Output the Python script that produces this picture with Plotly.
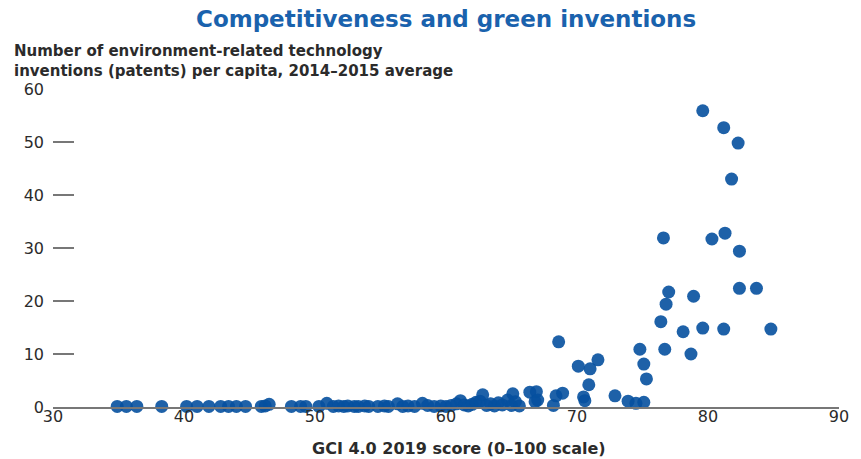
import plotly.graph_objects as go

# GCI 4.0 2019 score (x) and environment-related inventions per capita (y)
gci = [34.9, 35.6, 36.4, 38.3, 40.2, 41.0, 41.9, 42.8, 43.4, 44.0, 44.7, 45.9, 46.5, 46.2,
       48.2, 48.9, 49.3, 50.3, 50.9, 51.4, 51.8, 52.2, 52.5, 53.0, 53.3, 53.8, 54.1, 54.8,
       55.3, 55.6, 56.3, 56.7, 57.1, 57.6, 58.2, 58.6, 59.1, 59.6, 60.0, 60.4, 60.8, 61.1,
       61.4, 61.7, 62.0, 62.3, 62.6, 62.8, 63.1, 63.4, 63.7, 64.0, 64.3, 64.7, 65.0, 65.1,
       65.3, 65.6, 66.4, 66.9, 66.8, 67.0, 68.2, 68.4, 68.9, 68.6, 70.1, 71.0, 71.6, 70.9,
       70.5, 70.6, 72.9, 73.9, 74.5, 75.1, 74.8, 75.1, 75.3, 76.4, 76.7, 76.6, 76.8, 77.0,
       78.1, 78.7, 78.9, 79.6, 79.6, 80.3, 81.2, 81.3, 81.2, 81.8, 82.3, 82.4, 82.4, 83.7,
       84.8]
patents = [0.1, 0.1, 0.1, 0.1, 0.1, 0.1, 0.1, 0.1, 0.1, 0.1, 0.1, 0.1, 0.5, 0.2,
           0.1, 0.1, 0.1, 0.1, 0.7, 0.1, 0.2, 0.1, 0.2, 0.1, 0.1, 0.2, 0.1, 0.1,
           0.2, 0.1, 0.6, 0.1, 0.2, 0.1, 0.7, 0.3, 0.1, 0.2, 0.1, 0.3, 0.6, 1.2,
           0.4, 0.2, 0.5, 0.9, 1.1, 2.3, 0.3, 0.6, 0.2, 0.8, 0.4, 1.3, 0.3, 2.5,
           1.0, 0.2, 2.8, 2.9, 1.0, 1.3, 0.3, 2.1, 2.6, 12.3, 7.7, 7.2, 8.9, 4.2,
           1.9, 1.2, 2.1, 1.1, 0.7, 0.9, 10.9, 8.1, 5.3, 16.1, 10.9, 31.9, 19.4, 21.7,
           14.2, 10.0, 20.9, 14.9, 55.9, 31.7, 52.7, 32.8, 14.7, 43.0, 49.8, 29.4, 22.4, 22.4,
           14.7]

title_text = "Competitiveness and green inventions"
y_title_1 = "Number of environment-related technology"
y_title_2 = "inventions (patents) per capita, 2014–2015 average"
x_title = "GCI 4.0 2019 score (0–100 scale)"
y_ticks = [0, 10, 20, 30, 40, 50, 60]
x_ticks = [30, 40, 50, 60, 70, 80, 90]

FONT = "DejaVu Sans"
TEXT = "#2b2b2b"

fig = go.Figure()
fig.add_trace(go.Scatter(
    x=gci, y=patents, mode="markers",
    marker=dict(size=13, color="#05509e", opacity=0.9, line=dict(width=0)),
    cliponaxis=False, hoverinfo="x+y", showlegend=False,
))

fig.update_layout(
    width=861, height=459,
    margin=dict(l=53, r=17, t=89, b=52),
    paper_bgcolor="white", plot_bgcolor="white",
    font=dict(family=FONT, color=TEXT),
    xaxis=dict(range=[30, 90], tickvals=x_ticks, ticks="", showgrid=False, zeroline=False,
               showline=True, linecolor="#777777", linewidth=1.5,
               tickfont=dict(family=FONT, size=16, color=TEXT), ticklabelstandoff=-6,
               ticklabeloverflow="allow"),
    yaxis=dict(range=[0, 60], tickvals=y_ticks, ticks="inside", ticklen=21, tickwidth=1.5,
               tickcolor="#777777", showgrid=False, zeroline=False, showline=False,
               tickfont=dict(family=FONT, size=16, color=TEXT), ticklabelstandoff=8),
    annotations=[
        dict(text="<b>" + title_text + "</b>", xref="paper", yref="paper", x=0.5, y=1.220,
             xanchor="center", yanchor="middle", showarrow=False,
             font=dict(family=FONT, size=23, color="#1a62ad")),
        dict(text="<b>" + y_title_1 + "</b><br><b>" + y_title_2 + "</b>",
             xref="paper", yref="paper", x=-0.0518, y=1.088,
             xanchor="left", yanchor="middle", align="left", showarrow=False,
             font=dict(family=FONT, size=15, color=TEXT)),
        dict(text="<b>" + x_title + "</b>", xref="paper", yref="paper", x=0.516, y=-0.132,
             xanchor="center", yanchor="middle", showarrow=False,
             font=dict(family=FONT, size=16, color=TEXT)),
    ],
)

# remove the default 8px page margin so the 861x459 figure fills the window
fig.write_html("out.html", config={"displayModeBar": False},
               post_script="document.body.style.margin='0';")
